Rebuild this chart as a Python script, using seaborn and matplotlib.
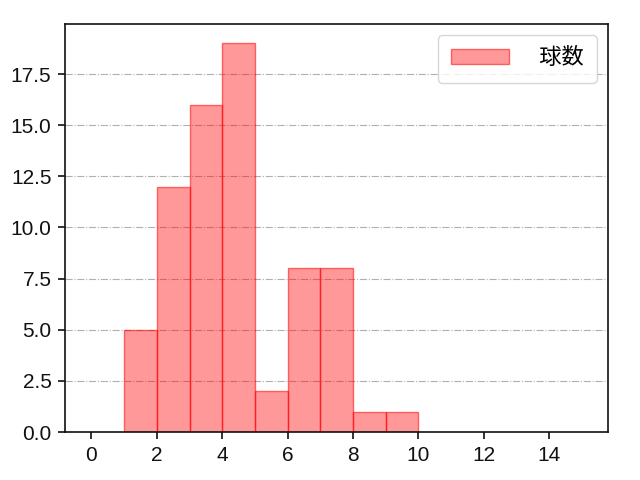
import seaborn as sns
import matplotlib.pyplot as plt
import pandas as pd

# pitch count per bin (bin left edge -> count)
bin_left = [1, 2, 3, 4, 5, 6, 7, 8, 9]
counts = [5, 12, 16, 19, 2, 8, 8, 1, 1]
bin_edges = list(range(1, 11))

df = pd.DataFrame({"x": [b + 0.5 for b in bin_left], "n": counts})

sns.set_style("white")
plt.rcParams['font.family'] = ['Liberation Sans', 'Noto Sans CJK JP']
plt.rcParams['font.size'] = 15
plt.rcParams['text.color'] = 'black'

fig, ax = plt.subplots(figsize=(6.4, 4.8), dpi=100)
sns.histplot(data=df, x="x", weights="n", bins=bin_edges, color="red",
             alpha=0.4, edgecolor=(1, 0, 0, 0.55), linewidth=1.0, label="  球数", ax=ax)

ax.set_xlim(-0.8, 15.8)
ax.set_xticks([0, 2, 4, 6, 8, 10, 12, 14])
ax.set_ylim(0, 19.95)
ax.set_yticks([0, 2.5, 5, 7.5, 10, 12.5, 15, 17.5])
ax.set_xlabel("")
ax.set_ylabel("")
ax.grid(axis="y", linestyle="-.", color="#b0b0b0", linewidth=0.8)
ax.set_axisbelow(True)
for s in ax.spines.values():
    s.set_linewidth(1.2)
    s.set_color("#111111")
ax.tick_params(axis="both", direction="out", length=5, width=1.2, bottom=True, left=True,
               labelsize=15, pad=5, colors="#111111")
ax.legend(loc="upper right", fontsize=16, handlelength=2.6, borderpad=0.6)

fig.subplots_adjust(left=0.102, right=0.95, bottom=0.1, top=0.95)
fig.savefig("out.png", dpi=100)
